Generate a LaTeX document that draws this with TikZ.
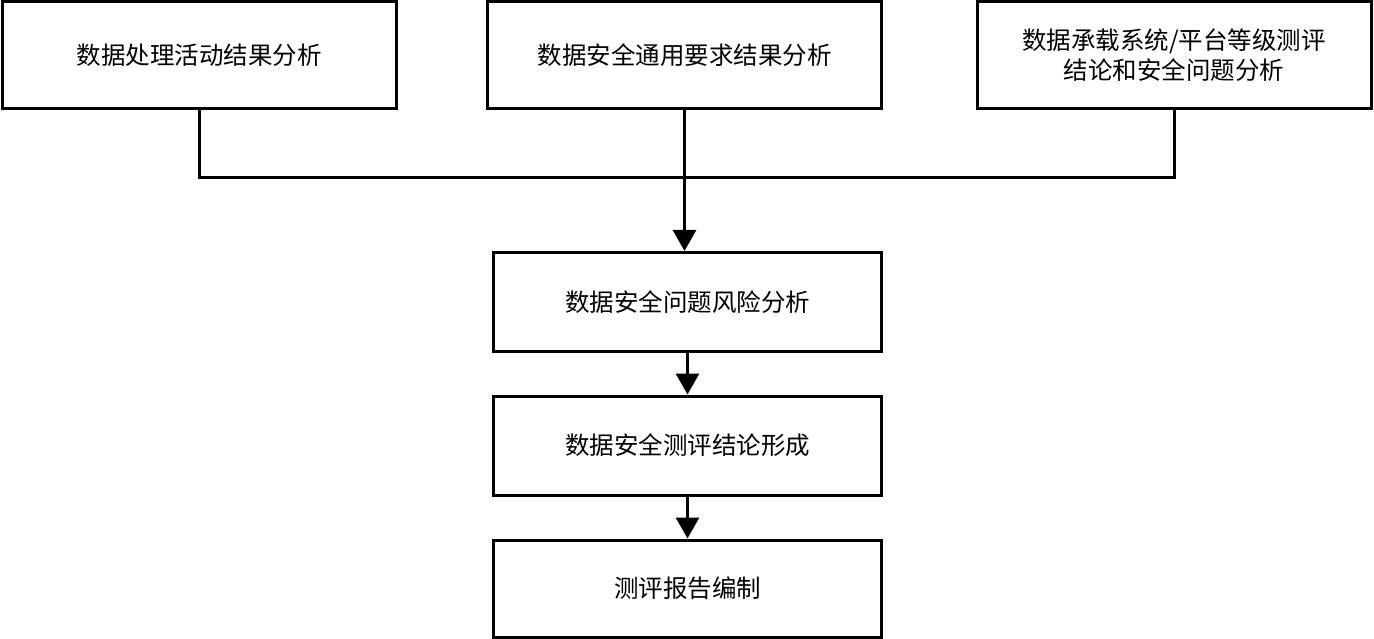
\documentclass[tikz,border=0pt]{standalone}
\usepackage{fontspec}
\usepackage{tikz}
\usetikzlibrary{arrows.meta,positioning,calc}
\setmainfont{Noto Sans CJK SC}

\begin{document}
\begin{tikzpicture}[x=1pt,y=-1pt,
    line width=3pt,
    stagebox/.style={draw=black, fill=white, line width=3pt, align=center,
        font=\fontsize{24.5}{30}\selectfont, inner sep=0pt},
    topbox/.style={stagebox, minimum width=394pt, minimum height=107pt},
    flowbox/.style={stagebox, minimum width=388pt, minimum height=99pt},
    flowarrow/.style={-{Triangle[width=23pt,length=21pt]}, line width=3pt}]
    \useasboundingbox (0,0) rectangle (1374,639);

    % Top row: three analysis inputs
    \node[topbox] (procres) at (199,55.5) {数据处理活动结果分析};
    \node[topbox] (genres) at (684.5,55.5) {数据安全通用要求结果分析};
    \node[topbox] (platres) at (1174,55.5) {数据承载系统/平台等级测评\\结论和安全问题分析};

    % Main flow
    \node[flowbox] (riskana) at (687.5,302) {数据安全问题风险分析};
    \node[flowbox] (concl) at (687.5,445.5) {数据安全测评结论形成};
    \node[flowbox, minimum height=97pt] (report) at (687.5,588.5) {测评报告编制};

    % Merge line of the top row
    \coordinate (bus) at (0,178);
    \draw (procres.south) |- (bus -| platres.south) -- (platres.south);
    \draw[flowarrow] (genres.south) -- (genres.south |- riskana.north);

    % Arrows between stages
    \draw[flowarrow] (riskana.south) -- (concl.north);
    \draw[flowarrow] (concl.south) -- (report.north);

\end{tikzpicture}
\end{document}
